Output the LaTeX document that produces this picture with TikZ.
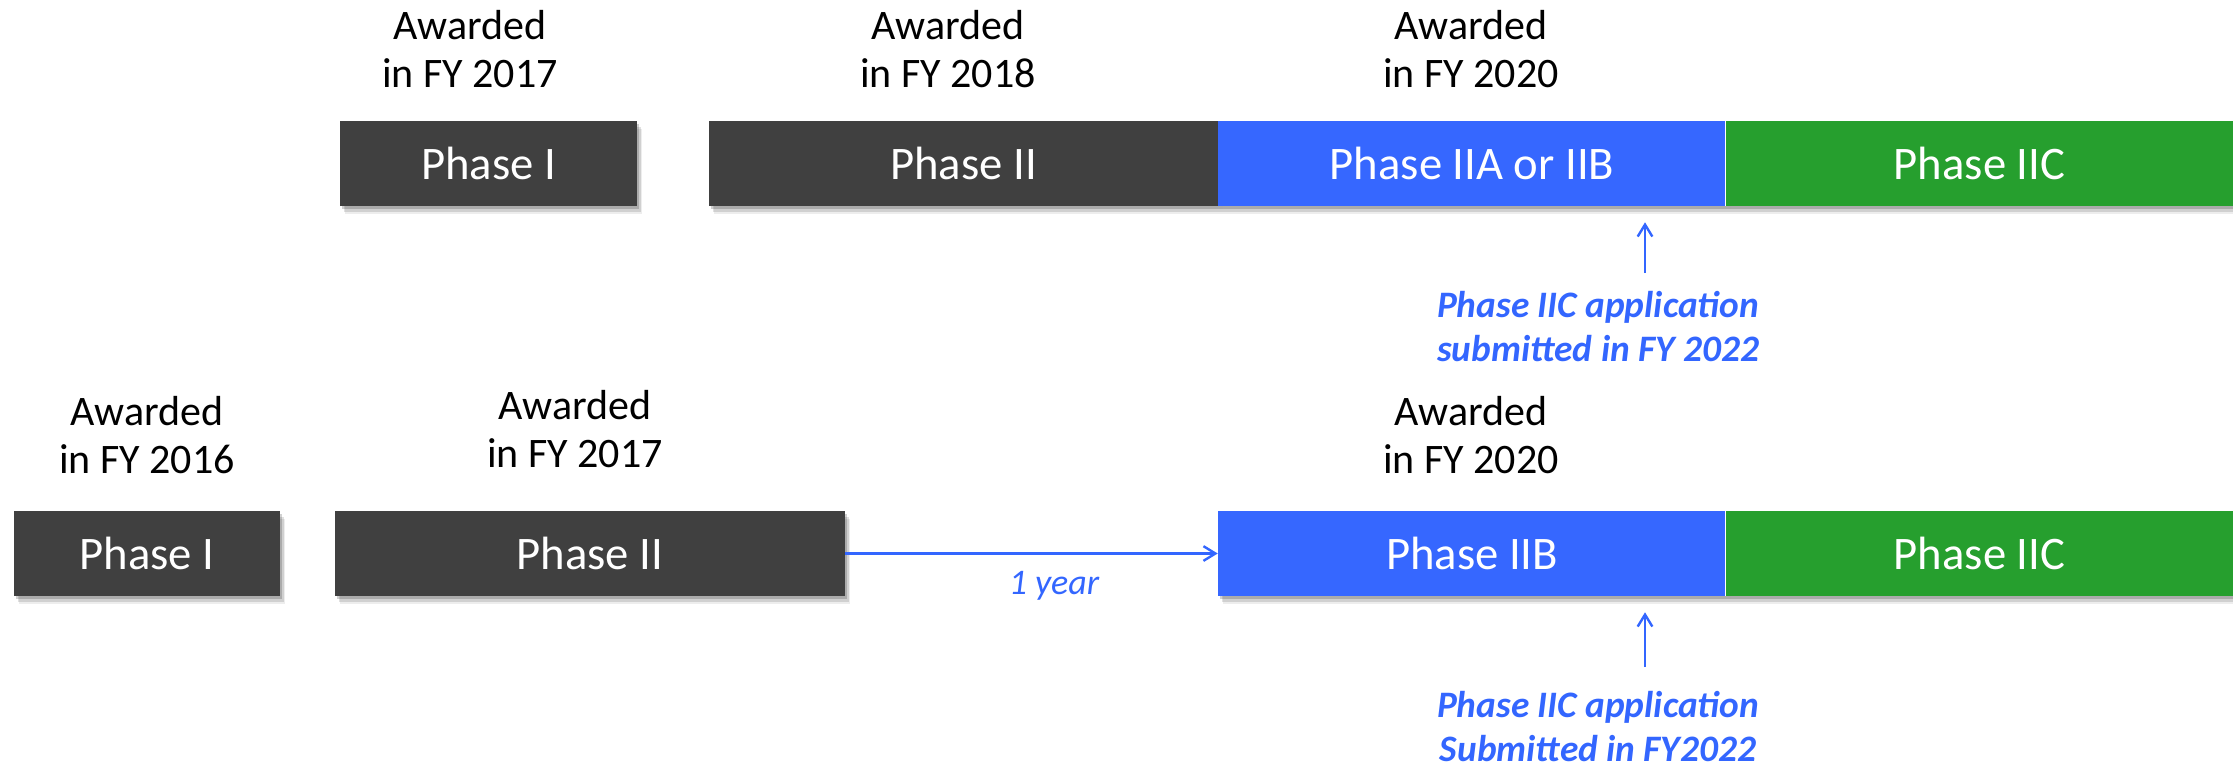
\documentclass[tikz,border=0pt]{standalone}
\usepackage{fontspec}
\setmainfont{Carlito}
\usetikzlibrary{arrows.meta,shadows}
\definecolor{dgray}{HTML}{404040}
\definecolor{pblue}{HTML}{3667FF}
\definecolor{pgreen}{HTML}{269F2E}
\definecolor{ablue}{HTML}{3366FF}
\begin{document}
\begin{tikzpicture}[x=0.75pt,y=-0.75pt,
  phase/.style={fill=#1, text=white, minimum height=63.75pt, inner sep=0pt,
    font=\fontsize{35}{42}\selectfont,
    drop shadow={shadow xshift=1.5pt, shadow yshift=-2.5pt, opacity=0.18, fill=black},
    drop shadow={shadow xshift=3pt, shadow yshift=-4.5pt, opacity=0.12, fill=black},
    drop shadow={shadow xshift=4pt, shadow yshift=-6pt, opacity=0.07, fill=black}},
  award/.style={align=center, inner sep=0pt, text=black, font=\fontsize{31.5}{36}\selectfont},
  note/.style={align=center, inner sep=0pt, text=ablue, font=\fontsize{28}{33}\selectfont\bfseries\itshape},
  arr/.style={draw=ablue, line width=1.8pt, -{Straight Barb[length=9pt,width=11pt]}}]
\useasboundingbox (0,0) rectangle (2233,767);
% top row
\node[phase=dgray, minimum width=222.75pt] (P1t) at (488.5,163.5) {Phase I};
\node[phase=dgray, minimum width=381.75pt] (P2t) at (963.5,163.5) {Phase II};
\node[phase=pblue, minimum width=381pt] (PAt) at (1472,163.5) {Phase IIA or IIB};
\node[phase=pgreen, minimum width=380.25pt] (PCt) at (1979.5,163.5) {Phase IIC};
\draw[white, line width=0.75pt] (PCt.north west) -- (PCt.south west);
\node[award] (A1t) at (470,49.5) {Awarded\\in FY 2017};
\node[award] (A2t) at (948,49.5) {Awarded\\in FY 2018};
\node[award] (A3t) at (1471,49.5) {Awarded\\in FY 2020};
\node[note] (N1) at (1598,327) {Phase IIC application\\submitted in FY 2022};
\coordinate (t1) at (1645,273);
\draw[arr] (t1) -- (t1 |- PAt.south) [shorten >=12pt];
% bottom row
\node[phase=dgray, minimum width=199.5pt] (P1b) at (147,553.5) {Phase I};
\node[phase=dgray, minimum width=382.5pt] (P2b) at (590,553.5) {Phase II};
\node[phase=pblue, minimum width=381pt] (PBb) at (1472,553.5) {Phase IIB};
\node[phase=pgreen, minimum width=380.25pt] (PCb) at (1979.5,553.5) {Phase IIC};
\draw[white, line width=0.75pt] (PCb.north west) -- (PCb.south west);
\node[award] (A1b) at (147,435.5) {Awarded\\in FY 2016};
\node[award] (A2b) at (575,429.5) {Awarded\\in FY 2017};
\node[award] (A3b) at (1471,435.5) {Awarded\\in FY 2020};
\draw[arr] (P2b.east) -- (PBb.west);
\node[inner sep=0pt, text=ablue, font=\fontsize{27}{32}\selectfont\itshape] (Y1) at (1054,586) {1 year};
\node[note] (N2) at (1598,727) {Phase IIC application\\Submitted in FY2022};
\coordinate (t2) at (1645,667);
\draw[arr] (t2) -- (t2 |- PBb.south) [shorten >=12pt];
\end{tikzpicture}
\end{document}
